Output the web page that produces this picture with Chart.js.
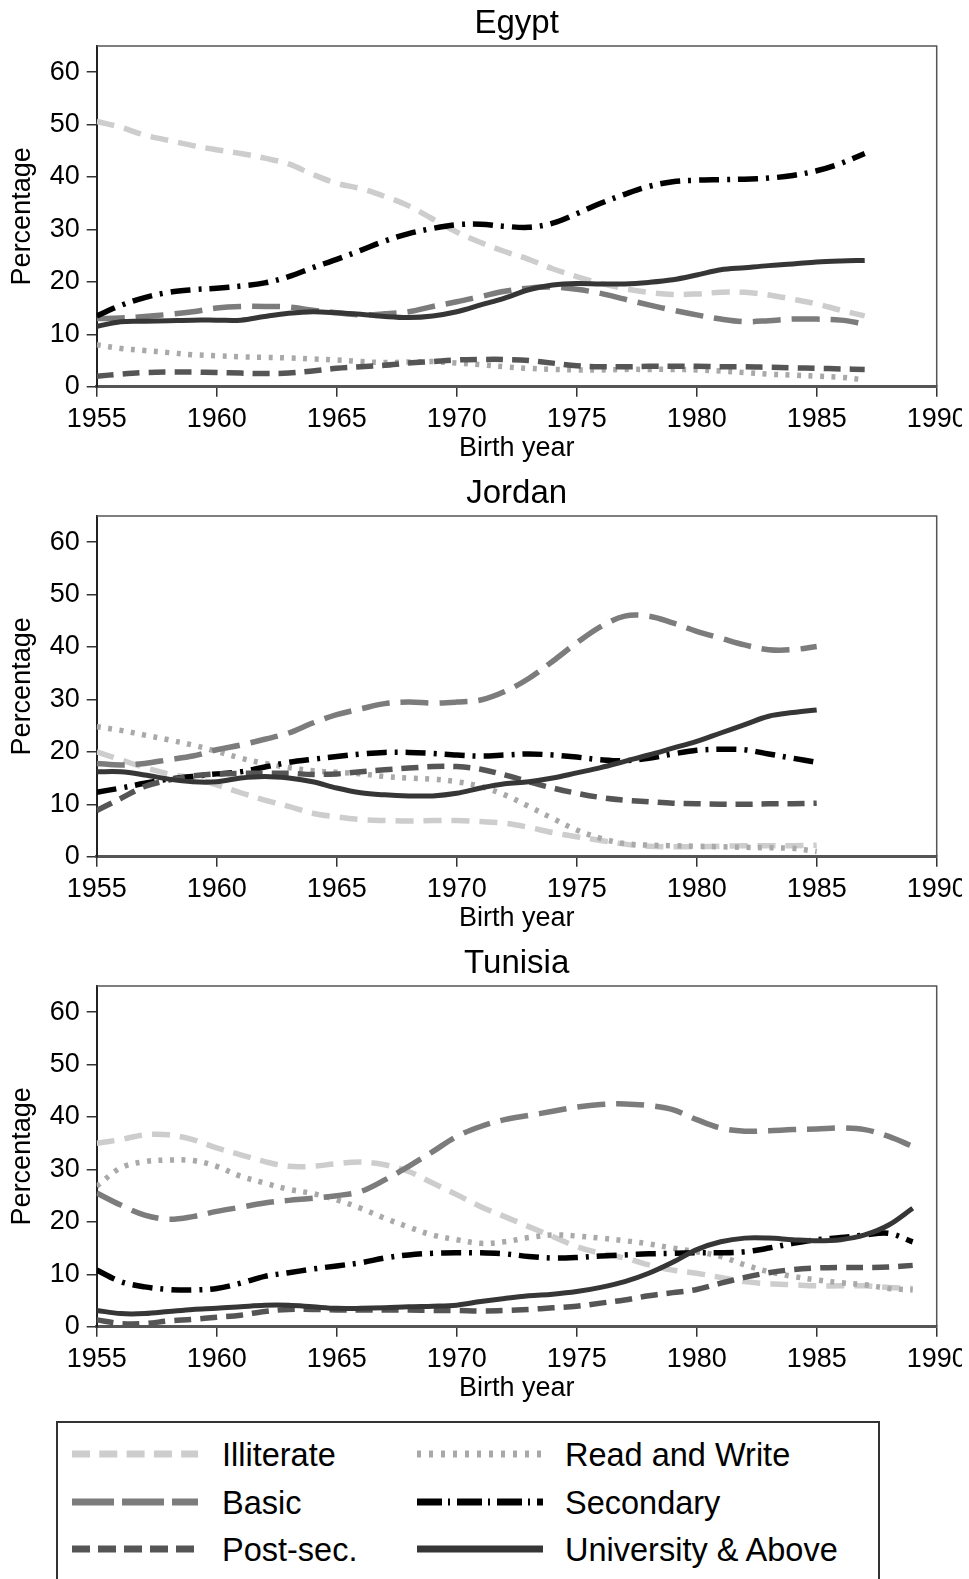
<!DOCTYPE html>
<html>
<head>
<meta charset="utf-8">
<script src="https://cdn.jsdelivr.net/npm/chart.js@4.4.1/dist/chart.umd.min.js"></script>
<style>
  html, body { margin: 0; padding: 0; background: #fff; }
  body { width: 969px; height: 1579px; overflow: hidden; position: relative; font-family: "Liberation Sans", Arial, sans-serif; }
  #clip { position: absolute; left: 0; top: 0; width: 962px; height: 1579px; overflow: hidden; }
  canvas.panel { position: absolute; left: 0; }
  #legend { position: absolute; left: 56px; top: 1421px; width: 824px; height: 200px; border: 2px solid #333; box-sizing: border-box; }
  .item { position: absolute; height: 32px; line-height: 32px; font-size: 32.5px; color: #000; white-space: nowrap; }
  .item svg { position: absolute; left: 0; top: 0; }
  .item span { position: absolute; top: 0; }
</style>
</head>
<body>
<div id="clip">
  <canvas id="egypt" class="panel" width="1000" height="470" style="top:0px"></canvas>
  <canvas id="jordan" class="panel" width="1000" height="470" style="top:470px"></canvas>
  <canvas id="tunisia" class="panel" width="1000" height="470" style="top:940px"></canvas>
</div>
<div id="legend"></div>
<script>
const seriesNames = ['Illiterate', 'Read and Write', 'Basic', 'Secondary', 'Post-sec.', 'University & Above'];

const egyptYears = [1955,1956,1957,1958,1959,1960,1961,1962,1963,1964,1965,1966,1967,1968,1969,1970,1971,1972,1973,1974,1975,1976,1977,1978,1979,1980,1981,1982,1983,1984,1985,1986,1987];
const egyptIlliterate = [50.6,49.5,48,47,46,45.2,44.5,43.6,42.5,40.5,38.8,37.8,36.3,34.5,32,29.5,27.5,25.8,24.3,22.5,21,19.7,18.7,18,17.6,17.7,18,18,17.5,16.7,15.8,14.6,13.5];
const egyptReadWrite = [8,7.3,6.9,6.5,6.1,5.9,5.7,5.6,5.5,5.3,5.1,4.8,4.6,4.7,4.8,4.5,4.2,3.8,3.5,3.3,3.2,3.2,3.3,3.3,3.3,3.2,3,2.7,2.4,2.2,2,1.8,1.3];
const egyptBasic = [13,13.1,13.4,13.8,14.3,15,15.3,15.3,15.2,14.6,14.1,13.7,13.9,14.3,15.3,16.2,17.2,18.2,18.8,19,18.6,17.8,16.7,15.6,14.6,13.7,12.9,12.4,12.6,12.9,12.9,12.7,12];
const egyptSecondary = [13.5,15.5,17,18,18.5,18.8,19.2,19.8,21,22.7,24.3,26,27.8,29.2,30.2,30.9,31,30.6,30.4,31.2,33,35,36.7,38.2,39.1,39.4,39.5,39.6,39.8,40.3,41.2,42.6,44.5];
const egyptPostSec = [2,2.4,2.7,2.8,2.8,2.7,2.6,2.5,2.6,3,3.5,3.8,4.1,4.5,4.8,5.1,5.2,5.2,5,4.5,4,3.8,3.8,3.9,3.9,3.9,3.8,3.8,3.7,3.6,3.5,3.4,3.3];
const egyptUniversity = [11.5,12.4,12.5,12.6,12.7,12.7,12.7,13.4,14,14.3,14.1,13.8,13.4,13.2,13.5,14.3,15.6,16.9,18.5,19.4,19.7,19.6,19.6,19.9,20.4,21.3,22.3,22.7,23.1,23.4,23.8,24,24.1];

const jordanYears = [1955,1956,1957,1958,1959,1960,1961,1962,1963,1964,1965,1966,1967,1968,1969,1970,1971,1972,1973,1974,1975,1976,1977,1978,1979,1980,1981,1982,1983,1984,1985];
const jordanIlliterate = [20,18.5,17,15.8,15,13.7,12.2,10.8,9.6,8.3,7.6,7.1,6.9,6.8,6.9,6.9,6.7,6.4,5.6,4.6,3.8,3.1,2.4,2,1.9,1.9,2,2.1,2.1,2.1,2.2];
const jordanReadWrite = [24.8,24.1,23.2,22.3,21.3,20.1,18.8,17.8,17,16.4,16.1,15.8,15.3,15,14.8,14.3,13.4,11.8,9.6,7.3,5.1,3.5,2.5,2.2,2.1,2,1.9,1.8,1.7,1.6,1];
const jordanBasic = [17.8,17.5,17.8,18.5,19.2,20.4,21.3,22.4,23.6,25.5,27.1,28.2,29.2,29.5,29.3,29.5,29.9,31.5,34,37.3,40.8,43.9,45.9,45.9,44.6,43,41.7,40.4,39.5,39.5,40.1];
const jordanSecondary = [12.3,13.1,14,14.8,15.3,15.8,16.2,17.1,18,18.6,19.1,19.6,19.9,19.9,19.7,19.4,19.2,19.4,19.6,19.4,19,18.5,18.3,18.8,19.6,20.3,20.5,20.4,19.6,18.8,18];
const jordanPostSec = [8.8,11.1,13.4,14.6,15.4,15.8,15.9,15.9,15.9,15.7,15.8,16.2,16.6,16.9,17.2,17.2,16.7,15.6,14.3,13.1,12.1,11.3,10.8,10.5,10.2,10.1,10,10,10.1,10.1,10.2];
const jordanUniversity = [16.2,16.2,15.6,14.8,14.3,14.3,15,15.3,15,14.3,13.1,12.2,11.8,11.6,11.6,12.1,13.1,13.9,14.3,15,16,17,18.2,19.4,20.7,22,23.6,25.2,26.8,27.5,28];

const tunisiaYears = [1955,1956,1957,1958,1959,1960,1961,1962,1963,1964,1965,1966,1967,1968,1969,1970,1971,1972,1973,1974,1975,1976,1977,1978,1979,1980,1981,1982,1983,1984,1985,1986,1987,1988,1989];
const tunisiaIlliterate = [35,35.7,36.6,36.6,35.7,34.1,32.8,31.5,30.6,30.6,31.1,31.4,30.9,29.6,27.4,25.2,22.9,21,19.1,17.2,15.3,14,13.1,11.8,10.8,10.2,9.4,8.6,8.2,8,7.8,7.8,7.8,7.5,7.3];
const tunisiaReadWrite = [26.8,30.3,31.5,31.8,31.7,30.6,28.7,27.4,26.2,25.4,24.2,22.6,20.7,19,17.5,16.6,15.9,16.2,17,17.5,17.3,16.9,16.4,15.8,15,14.3,13.4,11.8,10.5,9.6,8.9,8.4,8,7.3,7];
const tunisiaBasic = [25.5,23.2,21.3,20.5,21,22,22.8,23.6,24.1,24.5,25,25.8,28,30.6,33.4,36.3,38.2,39.5,40.3,41.1,41.9,42.4,42.5,42.2,41.4,39.5,37.9,37.3,37.4,37.6,37.7,37.9,37.6,36.3,34.4];
const tunisiaSecondary = [10.8,8.6,7.6,7.1,7,7.3,8.3,9.6,10.3,11,11.6,12.2,13.1,13.7,14,14.1,14.1,13.9,13.4,13.1,13.2,13.5,13.7,13.9,14,14.1,14.1,14.3,15,15.9,16.6,17,17.5,17.8,16.2];
const tunisiaPostSec = [1.3,0.6,0.6,1.1,1.4,1.8,2.2,2.9,3.3,3.3,3.2,3.2,3.2,3.2,3.1,3.1,3,3.1,3.3,3.6,3.9,4.5,5.1,5.9,6.5,7.1,8.3,9.4,10.3,10.9,11.2,11.3,11.3,11.4,11.7];
const tunisiaUniversity = [3.1,2.5,2.5,2.9,3.3,3.5,3.8,4.1,4.1,3.8,3.5,3.5,3.6,3.8,3.9,4.1,4.8,5.4,5.9,6.2,6.7,7.5,8.6,10.2,12.3,14.7,16.2,16.9,16.9,16.6,16.4,16.6,17.5,19.4,22.6];

// line look per series, in the order of seriesNames
const styles = [
  { color: '#cdcdcd', dash: [18, 10], width: 5.5 },
  { color: '#a9a9a9', dash: [4, 7.5], width: 5.5 },
  { color: '#7c7c7c', dash: [28, 11], width: 5.5 },
  { color: '#000000', dash: [20, 8, 3, 8], width: 5.5 },
  { color: '#555555', dash: [17, 9], width: 5.5 },
  { color: '#363636', dash: [], width: 5 }
];
const legendDash = [[18, 9.3], [4, 8], [42, 8], [25, 6, 2, 7], [18, 8], []];

const FONT = '"Liberation Sans", Arial, sans-serif';

const framePlugin = {
  id: 'frame',
  beforeDatasetsDraw(chart) {
    const { ctx, chartArea: a } = chart;
    ctx.save();
    ctx.strokeStyle = '#555';
    ctx.lineWidth = 1.5;
    ctx.beginPath();
    ctx.moveTo(a.left, a.top);
    ctx.lineTo(a.right, a.top);
    ctx.lineTo(a.right, a.bottom);
    ctx.stroke();
    ctx.restore();
  }
};

function makePanel(id, title, years, series) {
  const datasets = series.map((vals, i) => ({
    label: seriesNames[i],
    data: vals,
    borderColor: styles[i].color,
    borderDash: styles[i].dash,
    borderWidth: styles[i].width,
    pointRadius: 0,
    tension: 0.35,
    fill: false,
    order: 5 - i
  }));
  new Chart(document.getElementById(id), {
    type: 'line',
    data: { labels: years, datasets },
    options: {
      responsive: false,
      animation: false,
      layout: { padding: { left: 0, right: 63.3, top: 0, bottom: 0 } },
      plugins: {
        legend: { display: false },
        tooltip: { enabled: false }
      },
      scales: {
        x: {
          type: 'linear', min: 1955, max: 1990,
          afterFit: s => { s.height = 83.3; },
          border: { display: true, color: '#555', width: 3 },
          grid: { drawOnChartArea: false, drawTicks: true, tickLength: 10, color: '#333', lineWidth: 1.5 },
          ticks: { stepSize: 5, padding: 7, maxRotation: 0, autoSkip: false, color: '#000',
                   font: { family: FONT, size: 27 }, callback: v => String(v) },
          title: { display: true, text: 'Birth year', color: '#000',
                   font: { family: FONT, size: 27 }, padding: { top: 0, bottom: 4.8 } }
        },
        top: {
          type: 'linear', axis: 'x', position: 'top', min: 1955, max: 1990,
          afterFit: s => { s.height = 46; },
          border: { display: false },
          grid: { display: false },
          ticks: { display: false },
          title: { display: true, text: title, color: '#000',
                   font: { family: FONT, size: 33 }, padding: { top: 4.6, bottom: 0 } }
        },
        y: {
          min: 0, max: 65,
          afterFit: s => { s.width = 96.7; },
          border: { display: true, color: '#222', width: 2 },
          grid: { drawOnChartArea: false, drawTicks: true, tickLength: 10, color: '#333', lineWidth: 1.5 },
          ticks: { stepSize: 10, includeBounds: false, padding: 7, color: '#000',
                   font: { family: FONT, size: 27 } },
          title: { display: true, text: 'Percentage', color: '#000',
                   font: { family: FONT, size: 27 }, padding: { top: 6, bottom: 0 } }
        }
      }
    },
    plugins: [framePlugin]
  });
}

makePanel('egypt', 'Egypt', egyptYears,
  [egyptIlliterate, egyptReadWrite, egyptBasic, egyptSecondary, egyptPostSec, egyptUniversity]);
makePanel('jordan', 'Jordan', jordanYears,
  [jordanIlliterate, jordanReadWrite, jordanBasic, jordanSecondary, jordanPostSec, jordanUniversity]);
makePanel('tunisia', 'Tunisia', tunisiaYears,
  [tunisiaIlliterate, tunisiaReadWrite, tunisiaBasic, tunisiaSecondary, tunisiaPostSec, tunisiaUniversity]);

// legend: two columns, filled row by row
const legend = document.getElementById('legend');
const rowTop = [16, 64, 111];
const colLeft = [14, 359];
seriesNames.forEach((name, i) => {
  const row = Math.floor(i / 2), col = i % 2;
  const item = document.createElement('div');
  item.className = 'item';
  item.style.left = colLeft[col] + 'px';
  item.style.top = rowTop[row] + 'px';
  const svgNS = 'http://www.w3.org/2000/svg';
  const svg = document.createElementNS(svgNS, 'svg');
  svg.setAttribute('width', '128');
  svg.setAttribute('height', '32');
  const line = document.createElementNS(svgNS, 'line');
  line.setAttribute('x1', '0'); line.setAttribute('x2', '126');
  line.setAttribute('y1', '15'); line.setAttribute('y2', '15');
  line.setAttribute('stroke', styles[i].color);
  line.setAttribute('stroke-width', '7');
  if (legendDash[i].length) line.setAttribute('stroke-dasharray', legendDash[i].join(' '));
  svg.appendChild(line);
  item.appendChild(svg);
  const span = document.createElement('span');
  span.textContent = name;
  span.style.left = (col === 0 ? 150 : 148) + 'px';
  item.appendChild(span);
  legend.appendChild(item);
});
</script>
</body>
</html>
